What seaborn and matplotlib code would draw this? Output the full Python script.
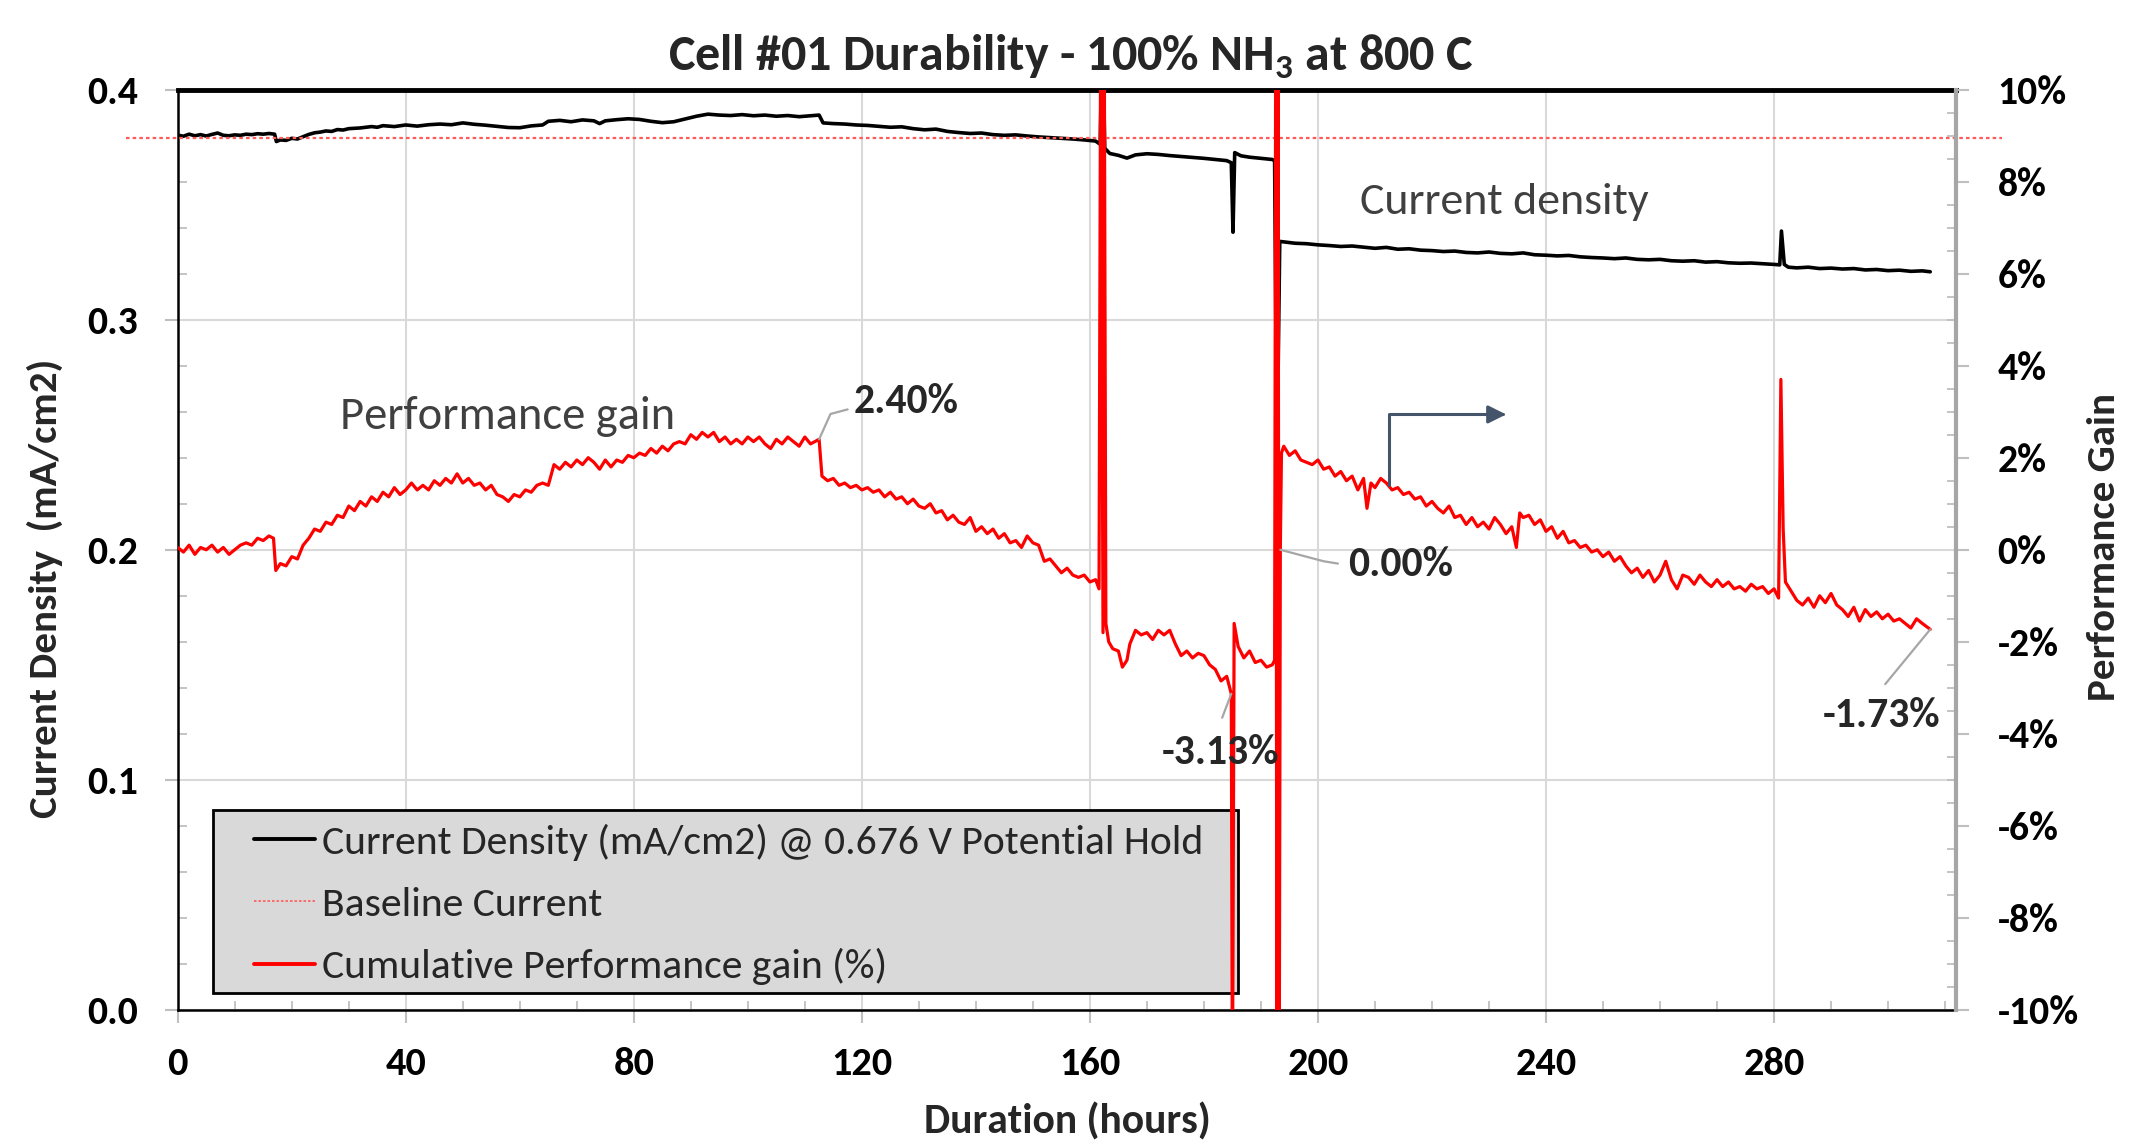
import numpy as np
import pandas as pd
import matplotlib
matplotlib.use("Agg")
import matplotlib.pyplot as plt
import seaborn as sns
from matplotlib import font_manager
from matplotlib.lines import Line2D
from matplotlib.patches import Rectangle
from matplotlib.ticker import MultipleLocator

# ---------------------------------------------------------------- data
# Current density at 0.676 V potential hold (mA/cm2) vs. duration (hours)
cd_hours = [0, 1, 2, 3, 4, 5, 6, 7, 8, 9, 10, 11, 12, 13, 14, 15, 16, 17,
            17.3, 18, 19, 20, 21, 22, 23, 24, 25, 26, 27, 28, 29, 30, 32, 34,
            35, 36, 38, 40, 42, 44, 46, 48, 50, 52, 54, 56, 58, 60, 62, 64,
            65, 67, 69, 71, 73, 74, 75, 77, 79, 81, 83, 85, 87, 89, 91, 93,
            95, 97, 99, 101, 103, 105, 107, 109, 111, 112.5, 113.2, 115, 117,
            119, 121, 123, 125, 127, 129, 131, 133, 135, 137, 139, 141, 143,
            145, 147, 149, 151, 153, 155, 157, 159, 161, 161.8, 162.2, 162.6,
            163.5, 165, 166.5, 168, 170, 172, 174, 176, 178, 180, 182, 184,
            184.8, 185.1, 185.4, 186.5, 188, 190, 192, 192.4, 192.8, 193.3,
            194, 196, 198, 200, 202, 204, 206, 208, 210, 212, 214, 216, 218,
            220, 222, 224, 226, 228, 230, 232, 234, 236, 238, 240, 242, 244,
            246, 248, 250, 252, 254, 256, 258, 260, 262, 264, 266, 268, 270,
            272, 274, 276, 278, 280, 281, 281.3, 281.8, 282.5, 284, 286, 288,
            290, 292, 294, 296, 298, 300, 302, 304, 306, 307.4]
cd_values = [0.3802, 0.3797, 0.3806, 0.3799, 0.3804, 0.3798, 0.3805, 0.3811,
             0.3801, 0.3799, 0.3803, 0.3801, 0.3806, 0.3804, 0.3808, 0.3806,
             0.3809, 0.3806, 0.3774, 0.3781, 0.3779, 0.3788, 0.3785, 0.3795,
             0.3805, 0.3812, 0.3815, 0.3820, 0.3818, 0.3826, 0.3824, 0.3830,
             0.3833, 0.3839, 0.3836, 0.3843, 0.3839, 0.3846, 0.3841, 0.3847,
             0.3850, 0.3847, 0.3855, 0.3849, 0.3845, 0.3840, 0.3835, 0.3834,
             0.3842, 0.3846, 0.3862, 0.3866, 0.3860, 0.3868, 0.3864, 0.3852,
             0.3864, 0.3869, 0.3873, 0.3870, 0.3862, 0.3856, 0.3860, 0.3872,
             0.3884, 0.3893, 0.3889, 0.3887, 0.3891, 0.3886, 0.3889, 0.3884,
             0.3887, 0.3882, 0.3886, 0.3889, 0.3855, 0.3852, 0.3850, 0.3846,
             0.3844, 0.3840, 0.3836, 0.3838, 0.3830, 0.3825, 0.3828, 0.3818,
             0.3813, 0.3809, 0.3811, 0.3804, 0.3801, 0.3803, 0.3798, 0.3794,
             0.3791, 0.3788, 0.3785, 0.3781, 0.3776, 0.3762, 0.4300, 0.3745,
             0.3722, 0.3714, 0.3702, 0.3716, 0.3721, 0.3718, 0.3713, 0.3709,
             0.3705, 0.3701, 0.3696, 0.3691, 0.3682, 0.3380, 0.3726, 0.3712,
             0.3706, 0.3701, 0.3696, 0.3690, 0.2350, 0.3340, 0.3338, 0.3332,
             0.3330, 0.3325, 0.3322, 0.3318, 0.3320, 0.3315, 0.3310, 0.3314,
             0.3306, 0.3308, 0.3302, 0.3300, 0.3296, 0.3298, 0.3292, 0.3290,
             0.3294, 0.3288, 0.3286, 0.3290, 0.3282, 0.3280, 0.3277, 0.3279,
             0.3273, 0.3270, 0.3268, 0.3265, 0.3268, 0.3262, 0.3260, 0.3262,
             0.3256, 0.3254, 0.3256, 0.3250, 0.3252, 0.3247, 0.3245, 0.3246,
             0.3243, 0.3240, 0.3238, 0.3385, 0.3240, 0.3228, 0.3225, 0.3228,
             0.3222, 0.3224, 0.3220, 0.3222, 0.3216, 0.3218, 0.3213, 0.3215,
             0.3210, 0.3212, 0.3208]

# Baseline current (mA/cm2)
baseline_current = 0.3788

# Cumulative performance gain (%) vs. duration (hours)
gain_hours = [0, 1, 2, 3, 4, 5, 6, 7, 8, 9, 10, 11, 12, 13, 14, 15, 16, 16.8,
              17.2, 18, 19, 20, 21, 22, 23, 24, 25, 26, 27, 28, 29, 30, 31, 32,
              33, 34, 35, 36, 37, 38, 39, 40, 41, 42, 43, 44, 45, 46, 47, 48,
              49, 50, 51, 52, 53, 54, 55, 56, 57, 58, 59, 60, 61, 62, 63, 64,
              65, 66, 67, 68, 69, 70, 71, 72, 73, 74, 75, 76, 77, 78, 79, 80,
              81, 82, 83, 84, 85, 86, 87, 88, 89, 90, 91, 92, 93, 94, 95, 96,
              97, 98, 99, 100, 101, 102, 103, 104, 105, 106, 107, 108, 109, 110,
              111, 112.5, 113, 114, 115, 116, 117, 118, 119, 120, 121, 122, 123,
              124, 125, 126, 127, 128, 129, 130, 131, 132, 133, 134, 135, 136,
              137, 138, 139, 140, 141, 142, 143, 144, 145, 146, 147, 148, 149,
              150, 151, 152, 153, 154, 155, 156, 157, 158, 159, 160, 161, 161.6,
              161.9, 162.3, 162.5, 162.8, 163.3, 164, 165, 165.7, 166.5, 167,
              168, 169, 170, 171, 172, 173, 174, 175, 176, 177, 178, 179, 180,
              181, 182, 183, 184, 184.8, 185.0, 185.3, 186, 187, 188, 189, 190,
              191, 192, 192.4, 192.6, 192.8, 193.0, 193.2, 193.4, 193.6, 194,
              195, 196, 197, 198, 199, 200, 201, 202, 203, 204, 205, 206, 207,
              208, 208.6, 209.3, 210, 211, 212, 213, 214, 215, 216, 217, 218,
              219, 220, 221, 222, 223, 224, 225, 226, 227, 228, 229, 230, 231,
              232, 233, 234, 234.8, 235.4, 236, 237, 238, 239, 240, 241, 242,
              243, 244, 245, 246, 247, 248, 249, 250, 251, 252, 253, 254, 255,
              256, 257, 258, 259, 260, 261, 262, 263, 264, 265, 266, 267, 268,
              269, 270, 271, 272, 273, 274, 275, 276, 277, 278, 279, 280, 280.8,
              281.2, 281.6, 282, 283, 284, 285, 286, 287, 288, 289, 290, 291,
              292, 293, 294, 295, 296, 297, 298, 299, 300, 301, 302, 303, 304,
              305, 306, 307.4]
gain_values = [0.05, -0.05, 0.10, -0.10, 0.05, 0.00, 0.10, -0.05, 0.05, -0.10,
               0.00, 0.10, 0.15, 0.10, 0.25, 0.20, 0.30, 0.25, -0.45, -0.30,
               -0.35, -0.15, -0.20, 0.10, 0.25, 0.45, 0.40, 0.60, 0.55, 0.75,
               0.70, 0.95, 0.85, 1.05, 0.95, 1.15, 1.05, 1.25, 1.15, 1.35, 1.20,
               1.30, 1.45, 1.30, 1.40, 1.30, 1.50, 1.40, 1.55, 1.45, 1.65, 1.45,
               1.55, 1.40, 1.45, 1.30, 1.40, 1.20, 1.15, 1.05, 1.20, 1.15, 1.30,
               1.25, 1.40, 1.45, 1.40, 1.85, 1.75, 1.90, 1.80, 1.95, 1.85, 2.00,
               1.90, 1.75, 1.95, 1.80, 1.95, 1.90, 2.05, 2.00, 2.10, 2.05, 2.20,
               2.10, 2.25, 2.15, 2.30, 2.35, 2.30, 2.50, 2.40, 2.55, 2.45, 2.55,
               2.35, 2.45, 2.30, 2.40, 2.30, 2.45, 2.35, 2.45, 2.30, 2.20, 2.40,
               2.30, 2.45, 2.35, 2.25, 2.45, 2.30, 2.40, 1.60, 1.50, 1.55, 1.40,
               1.45, 1.35, 1.40, 1.30, 1.35, 1.25, 1.30, 1.15, 1.25, 1.10, 1.15,
               1.00, 1.10, 0.95, 0.90, 1.00, 0.80, 0.85, 0.65, 0.75, 0.60, 0.55,
               0.70, 0.40, 0.50, 0.35, 0.45, 0.25, 0.35, 0.15, 0.20, 0.05, 0.30,
               0.15, 0.10, -0.25, -0.20, -0.35, -0.50, -0.40, -0.55, -0.60,
               -0.55, -0.70, -0.65, -0.85, 12.0, -1.80, 12.0, -1.60, -2.00,
               -2.15, -2.20, -2.55, -2.40, -2.05, -1.75, -1.85, -1.80, -1.95,
               -1.75, -1.85, -1.75, -2.05, -2.30, -2.20, -2.35, -2.25, -2.30,
               -2.50, -2.60, -2.85, -2.75, -3.13, -12.0, -1.60, -2.10, -2.35,
               -2.20, -2.45, -2.40, -2.55, -2.50, -2.40, 12.0, -12.0, 12.0,
               -12.0, 0.00, 2.10, 2.25, 2.05, 2.15, 1.95, 1.90, 1.85, 1.95, 1.75,
               1.80, 1.60, 1.70, 1.50, 1.60, 1.30, 1.55, 0.90, 1.45, 1.35, 1.55,
               1.45, 1.30, 1.35, 1.20, 1.25, 1.10, 1.15, 0.95, 1.05, 0.90, 0.80,
               0.95, 0.70, 0.75, 0.55, 0.70, 0.50, 0.60, 0.45, 0.70, 0.55, 0.35,
               0.50, 0.05, 0.80, 0.70, 0.75, 0.55, 0.65, 0.40, 0.50, 0.25, 0.40,
               0.15, 0.20, 0.05, 0.10, -0.05, 0.00, -0.15, -0.05, -0.25, -0.15,
               -0.35, -0.50, -0.40, -0.60, -0.45, -0.70, -0.55, -0.25, -0.65,
               -0.85, -0.55, -0.60, -0.75, -0.55, -0.70, -0.80, -0.65, -0.80,
               -0.70, -0.85, -0.80, -0.90, -0.75, -0.85, -0.80, -0.95, -0.85,
               -1.05, 3.70, 0.45, -0.70, -0.90, -1.10, -1.20, -1.05, -1.25,
               -1.00, -1.15, -0.95, -1.20, -1.30, -1.45, -1.25, -1.55, -1.30,
               -1.45, -1.35, -1.50, -1.40, -1.55, -1.50, -1.60, -1.70, -1.50,
               -1.60, -1.73]

# Points whose value is printed next to the curve (hours)
labelled_hours = [112.5, 184.8, 193.4, 307.4]

# Axis ticks
x_ticks = [0, 40, 80, 120, 160, 200, 240, 280]
x_tick_labels = ["0", "40", "80", "120", "160", "200", "240", "280"]
left_ticks = [0.0, 0.1, 0.2, 0.3, 0.4]
left_tick_labels = ["0.0", "0.1", "0.2", "0.3", "0.4"]
right_ticks = [-10, -8, -6, -4, -2, 0, 2, 4, 6, 8, 10]
right_tick_labels = ["-10%", "-8%", "-6%", "-4%", "-2%", "0%", "2%", "4%",
                     "6%", "8%", "10%"]

series_labels = ["Current Density (mA/cm2) @ 0.676 V Potential Hold",
                 "Baseline Current",
                 "Cumulative Performance gain (%)"]

# ---------------------------------------------------------------- style
sns.set_theme(style="white")
available = {f.name for f in font_manager.fontManager.ttflist}
FONT = next((f for f in ["Carlito", "Lato"] if f in available), "DejaVu Sans")
plt.rcParams["font.family"] = [FONT, "DejaVu Sans"]
plt.rcParams["mathtext.fontset"] = "custom"
plt.rcParams["mathtext.rm"] = FONT
plt.rcParams["mathtext.bf"] = f"{FONT}:bold"

TICK_GREY = "#bfbfbf"
GRID_GREY = "#d9d9d9"

cd_df = pd.DataFrame({"hours": cd_hours, "current": cd_values})
gain_df = pd.DataFrame({"hours": gain_hours, "gain": gain_values})

fig = plt.figure(figsize=(21.31, 11.42), dpi=100)
ax = fig.add_axes([0.0834, 0.1156, 0.8347, 0.8060])
ax2 = ax.twinx()

# ---------------------------------------------------------------- series
sns.lineplot(data=cd_df, x="hours", y="current", ax=ax, color="black",
             linewidth=2.6, estimator=None, sort=False, legend=False)
ax.plot([-9, 320], [baseline_current, baseline_current], color="#ff5a5a",
        linestyle=(0, (1.6, 1.4)), linewidth=1.6, clip_on=False, zorder=3)
sns.lineplot(data=gain_df, x="hours", y="gain", ax=ax2, color="#ff0000",
             linewidth=2.3, estimator=None, sort=False, legend=False)

# ---------------------------------------------------------------- axes
ax.set_xlim(0, 312)
ax.set_ylim(0, 0.4)
ax2.set_ylim(-10, 10)

ax.set_xticks(x_ticks)
ax.set_xticklabels(x_tick_labels, fontsize=29, fontweight="bold")
ax.set_yticks(left_ticks)
ax.set_yticklabels(left_tick_labels, fontsize=28.5, fontweight="bold")
ax2.set_yticks(right_ticks)
ax2.set_yticklabels(right_tick_labels, fontsize=28.5, fontweight="bold")
ax.xaxis.set_minor_locator(MultipleLocator(10))
ax.yaxis.set_minor_locator(MultipleLocator(0.02))
ax2.yaxis.set_minor_locator(MultipleLocator(0.5))

ax.tick_params(axis="x", which="major", direction="out", length=9.5,
               width=1.5, color=TICK_GREY, pad=17, labelcolor="black",
               bottom=True)
ax.tick_params(axis="y", which="major", direction="out", length=9.5,
               width=1.5, color=TICK_GREY, pad=19, labelcolor="black",
               left=True)
ax.tick_params(axis="both", which="minor", direction="in", length=6.5,
               width=1.3, color=TICK_GREY, bottom=True, left=True)
ax2.tick_params(axis="y", which="major", direction="out", length=9.5,
                width=1.5, color=TICK_GREY, pad=20, labelcolor="black",
                right=True)
ax2.tick_params(axis="y", which="minor", direction="in", length=6.5,
                width=1.3, color=TICK_GREY, right=True)

ax.grid(True, which="major", color=GRID_GREY, linewidth=1.5)
ax.set_axisbelow(True)
ax2.grid(False)

ax.spines["top"].set(color="black", linewidth=3.5)
ax.spines["left"].set(color="black", linewidth=1.8)
ax.spines["bottom"].set(color="black", linewidth=1.8)
ax.spines["right"].set_visible(False)
for side in ["top", "left", "bottom"]:
    ax2.spines[side].set_visible(False)
ax2.spines["right"].set(color="#a6a6a6", linewidth=3.0)

ax.set_xlabel("Duration (hours)", fontsize=30, fontweight="bold")
ax.xaxis.set_label_coords(0.5, -0.1216)
ax.xaxis.label.set_va("center")
ax.set_ylabel("Current Density  (mA/cm2)", fontsize=29.5, fontweight="bold")
ax.yaxis.set_label_coords(-0.0746, 0.4585)
ax.yaxis.label.set_va("center")
ax2.set_ylabel("Performance Gain", fontsize=29.5, fontweight="bold",
               rotation=90)
ax2.yaxis.set_label_coords(1.083, 0.503)
ax2.yaxis.label.set_va("center")

fig.text(0.5026, 0.950, r"Cell #01 Durability - 100% NH$_\mathbf{3}$ at 800 C",
         ha="center", va="center", fontsize=36, fontweight="bold")

# ---------------------------------------------------------------- callouts
ax.text(57.8, 0.258, "Performance gain", fontsize=33.5, color="#404040",
        ha="center", va="center")
ax.text(232.7, 0.351, "Current density", fontsize=33, color="#404040",
        ha="center", va="center")
ax2.annotate("", xy=(233, 2.94), xytext=(212.5, 1.40),
             arrowprops=dict(arrowstyle="-|>", color="#44546a", lw=2.2,
                             mutation_scale=27, shrinkA=0, shrinkB=0,
                             connectionstyle="angle,angleA=90,angleB=0,rad=0"))

gain_lookup = dict(zip(gain_hours, gain_values))
label_layout = {
    112.5: ((127.8, 3.23), [(112.5, None), (114.5, 2.95), (117.5, 3.05)]),
    184.8: ((182.9, -4.41), [(184.8, None), (183.2, -3.65)]),
    193.4: ((214.5, -0.33), [(193.4, None), (201.0, -0.25), (203.5, -0.30)]),
    307.4: ((298.9, -3.60), [(307.4, None), (299.5, -2.92)]),
}
for h in labelled_hours:
    v = gain_lookup[h]
    (tx, ty), leader = label_layout[h]
    xs = [p[0] for p in leader]
    ys = [v if p[1] is None else p[1] for p in leader]
    ax2.plot(xs, ys, color="#a6a6a6", linewidth=1.6, zorder=4)
    ax2.text(tx, ty, f"{v:.2f}%", fontsize=30, fontweight="bold",
             ha="center", va="center", zorder=5)

# ---------------------------------------------------------------- legend
# grey legend panel, drawn under the performance-gain curve
ax.add_patch(Rectangle((0.09995, 0.13047), 0.4810, 0.16025,
                       transform=fig.transFigure, facecolor="#d9d9d9",
                       edgecolor="black", linewidth=2.0, clip_on=False,
                       zorder=4))
handles = [Line2D([], [], color="black", linewidth=2.8),
           Line2D([], [], color="#ff5a5a", linewidth=1.2,
                  linestyle=(0, (1.5, 1.2))),
           Line2D([], [], color="#ff0000", linewidth=2.8)]
leg = ax.legend(handles, series_labels, loc="center left",
                bbox_to_anchor=(254 / 2131, 1 - 904.5 / 1142),
                bbox_transform=fig.transFigure, fontsize=30, frameon=False,
                handlelength=1.46, handletextpad=0.17, borderpad=0,
                labelspacing=0.61, borderaxespad=0)
leg.set_zorder(5)

fig.savefig("out.png", dpi=100)
